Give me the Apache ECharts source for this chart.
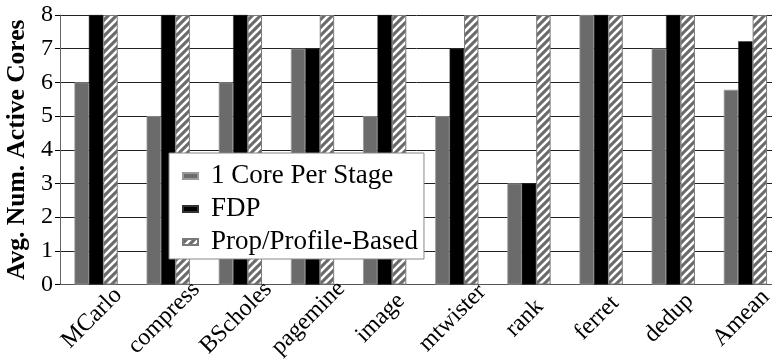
<!DOCTYPE html>
<html>
<head>
<meta charset="utf-8">
<script src="https://cdn.jsdelivr.net/npm/echarts@6/dist/echarts.min.js"></script>
<style>
  html, body { margin: 0; padding: 0; background: #fff; }
  #chart { width: 772px; height: 362px; }
</style>
</head>
<body>
<div id="chart"></div>
<script>
// Benchmarks on the x axis
const categories = ['MCarlo', 'compress', 'BScholes', 'pagemine', 'image',
                    'mtwister', 'rank', 'ferret', 'dedup', 'Amean'];
// Average number of active cores per scheme
const onePerStage = [6, 5, 6, 7, 5, 5, 3, 8, 7, 5.78];
const fdp         = [8, 8, 8, 7, 8, 7, 3, 8, 8, 7.22];
const propProfile = [8, 8, 8, 8, 8, 8, 8, 8, 8, 8];
const yTicks = [0, 1, 2, 3, 4, 5, 6, 7, 8];

const FONT = '"Liberation Serif", "DejaVu Serif", serif';

// Diagonal white-on-gray hatch used for the third series
function makeHatch() {
  const c = document.createElement('canvas');
  c.width = 8; c.height = 8;
  const g = c.getContext('2d');
  g.fillStyle = '#6b6b6b';
  g.fillRect(0, 0, 8, 8);
  g.strokeStyle = '#ffffff';
  g.lineWidth = 2.6;
  g.beginPath();
  g.moveTo(-2, 10); g.lineTo(10, -2);
  g.moveTo(-6, 6); g.lineTo(6, -6);
  g.moveTo(2, 14); g.lineTo(14, 2);
  g.stroke();
  return c;
}
const hatch = { image: makeHatch(), repeat: 'repeat' };

const chart = echarts.init(document.getElementById('chart'), null, { renderer: 'canvas' });
chart.setOption({
  animation: false,
  backgroundColor: '#ffffff',
  // plot area runs slightly past the right edge of the canvas
  grid: { left: 60, top: 15, width: 721.5, height: 269.5, containLabel: false, outerBoundsMode: 'none' },
  legend: {
    orient: 'vertical',
    left: 169, top: 153,
    padding: [8, 6, 2, 13],
    itemGap: 3,
    itemWidth: 15, itemHeight: 6,
    icon: 'rect',
    backgroundColor: '#ffffff',
    borderColor: '#888888',
    borderWidth: 1,
    textStyle: { fontFamily: FONT, fontSize: 27, color: '#000', padding: [0, 0, 0, 8], lineHeight: 30 },
    data: ['1 Core Per Stage', 'FDP', 'Prop/Profile-Based']
  },
  xAxis: {
    type: 'category',
    data: categories,
    axisLine: { lineStyle: { color: '#555', width: 1 } },
    axisTick: { alignWithLabel: true, length: 6, lineStyle: { color: '#000' } },
    // labels are centred on a point just left of and below each tick
    axisLabel: {
      rotate: 45, margin: 38.5, align: 'center', verticalAlign: 'middle',
      formatter: v => '{t|' + v + '}',
      rich: { t: { padding: [0, 0, 13, 1], fontFamily: FONT, fontSize: 24, color: '#000' } },
      fontFamily: FONT, fontSize: 24, color: '#000', interval: 0
    }
  },
  yAxis: {
    type: 'value',
    min: yTicks[0], max: yTicks[yTicks.length - 1], interval: 1,
    name: 'Avg. Num. Active Cores',
    nameLocation: 'middle',
    nameGap: 24,
    nameTextStyle: { fontFamily: FONT, fontSize: 25.5, fontWeight: 'bold', color: '#000' },
    axisLine: { show: true, lineStyle: { color: '#666', width: 1 } },
    axisTick: { show: true, length: 5, lineStyle: { color: '#000' } },
    axisLabel: { margin: 7, fontFamily: FONT, fontSize: 24, color: '#000' },
    splitLine: { lineStyle: { color: '#222', width: 1 } }
  },
  series: [
    {
      name: '1 Core Per Stage', type: 'bar', data: onePerStage,
      barGap: '0%', barCategoryGap: '40%',
      itemStyle: { color: '#6b6b6b', borderColor: '#9a9a9a', borderWidth: 0.8 }
    },
    {
      name: 'FDP', type: 'bar', data: fdp,
      itemStyle: { color: '#000000', borderColor: '#333', borderWidth: 0.5 }
    },
    {
      name: 'Prop/Profile-Based', type: 'bar', data: propProfile,
      itemStyle: { color: hatch, borderColor: '#7a7a7a', borderWidth: 1 }
    }
  ]
});
</script>
</body>
</html>
